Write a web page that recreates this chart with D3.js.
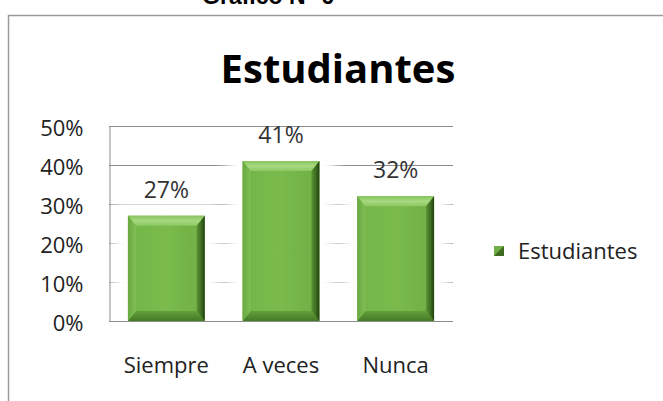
<!DOCTYPE html>
<html>
<head>
<meta charset="utf-8">
<script src="https://cdnjs.cloudflare.com/ajax/libs/d3/7.8.5/d3.min.js"></script>
<style>
  body { margin: 0; background: #fff; }
  svg { display: block; }
  text { font-family: "Open Sans", Lato, sans-serif; }
</style>
</head>
<body>
<div id="chart"></div>
<script>
// data
const categories = ["Siempre", "A veces", "Nunca"];
const values = [0.27, 0.41, 0.32];
const yTicks = [0, 0.1, 0.2, 0.3, 0.4, 0.5];
const seriesName = "Estudiantes";
const chartTitle = "Estudiantes";
const figureCaption = "Gráfico N° 6";

const width = 663, height = 401;
const plot = { left: 109, right: 453, top: 126, bottom: 321 };

const svg = d3.select("#chart").append("svg")
  .attr("width", width)
  .attr("height", height);

const defs = svg.append("defs");

// soft white halo around bars (hides gridlines near them)
defs.append("filter").attr("id", "halo")
  .attr("x", "-50%").attr("y", "-50%").attr("width", "200%").attr("height", "200%")
  .append("feGaussianBlur").attr("stdDeviation", 7);

function vGrad(id, stops) {
  const g = defs.append("linearGradient").attr("id", id)
    .attr("x1", 0).attr("y1", 0).attr("x2", 0).attr("y2", 1);
  stops.forEach(s => g.append("stop").attr("offset", s[0]).attr("stop-color", s[1]));
}
function hGrad(id, stops) {
  const g = defs.append("linearGradient").attr("id", id)
    .attr("x1", 0).attr("y1", 0).attr("x2", 1).attr("y2", 0);
  stops.forEach(s => g.append("stop").attr("offset", s[0]).attr("stop-color", s[1]));
}
hGrad("face", [[0, "#74b548"], [0.5, "#7abb4c"], [1, "#6fae43"]]);
vGrad("topBevel", [[0, "#88c45e"], [0.5, "#a8d980"], [1, "#8cc862"]]);
vGrad("botBevel", [[0, "#62a03a"], [1, "#457927"]]);
hGrad("leftBevel", [[0, "#68a840"], [1, "#80bf55"]]);
hGrad("rightBevel", [[0, "#5a9334"], [0.6, "#3b6921"], [1, "#213f0e"]]);

// caption above (cut off at the top, as in the source)
svg.append("text")
  .attr("x", 268).attr("y", 4)
  .attr("text-anchor", "middle")
  .style("font-family", "'Liberation Sans', Arial, sans-serif")
  .style("font-weight", "bold")
  .style("font-size", "23px")
  .attr("fill", "#000")
  .text(figureCaption);

// chart frame
svg.append("path")
  .attr("d", `M8.5,${height} V15.5 H${width}`)
  .attr("fill", "none")
  .attr("stroke", "#9a9a9a")
  .attr("stroke-width", 1.5);

// title
svg.append("text")
  .attr("x", 338).attr("y", 83)
  .attr("text-anchor", "middle")
  .style("font-weight", "bold")
  .style("font-size", "40px")
  .attr("fill", "#000")
  .text(chartTitle);

const x = d3.scaleBand()
  .domain(categories)
  .range([plot.left, plot.right])
  .paddingInner(0.33)
  .paddingOuter(0.165);

const y = d3.scaleLinear()
  .domain([0, 0.5])
  .range([plot.bottom, plot.top]);

// gridlines
svg.append("g")
  .selectAll("line")
  .data(yTicks.filter(d => d > 0))
  .join("line")
  .attr("x1", plot.left).attr("x2", plot.right)
  .attr("y1", d => Math.round(y(d)) + 0.5)
  .attr("y2", d => Math.round(y(d)) + 0.5)
  .attr("stroke", "#8c8c8c")
  .attr("stroke-width", 1);

// halos
svg.append("g")
  .selectAll("rect")
  .data(values)
  .join("rect")
  .attr("x", (d, i) => x(categories[i]) - 16)
  .attr("y", d => y(d) - 14)
  .attr("width", x.bandwidth() + 32)
  .attr("height", d => plot.bottom - y(d) + 14)
  .attr("fill", "#fff")
  .attr("filter", "url(#halo)");

// y axis
const yAxis = d3.axisLeft(y)
  .tickValues(yTicks)
  .tickFormat(d3.format(".0%"))
  .tickSize(0)
  .tickPadding(26);

const yg = svg.append("g")
  .attr("transform", `translate(${plot.left + 0.5},0)`)
  .call(yAxis);
yg.select(".domain").attr("stroke", "#8c8c8c");
yg.selectAll("text")
  .style("font-family", "'Open Sans', sans-serif")
  .style("font-size", "22px")
  .attr("fill", "#222")
  .attr("dy", "0.43em");

// bevelled bars
const bev = 10, side = 8;
const bars = svg.append("g")
  .selectAll("g")
  .data(values)
  .join("g");

bars.each(function (d, i) {
  const g = d3.select(this);
  const x0 = x(categories[i]), x1 = x0 + x.bandwidth();
  const y0 = y(d), y1 = y(0);
  g.append("rect")
    .attr("x", x0).attr("y", y0)
    .attr("width", x1 - x0).attr("height", y1 - y0)
    .attr("fill", "url(#face)");
  const poly = (pts, fill) => g.append("polygon")
    .attr("points", pts.map(p => p.join(",")).join(" "))
    .attr("fill", fill);
  poly([[x0, y0], [x1, y0], [x1 - side, y0 + bev], [x0 + side, y0 + bev]], "url(#topBevel)");
  poly([[x0, y1], [x1, y1], [x1 - side, y1 - bev], [x0 + side, y1 - bev]], "url(#botBevel)");
  poly([[x0, y0], [x0 + side, y0 + bev], [x0 + side, y1 - bev], [x0, y1]], "url(#leftBevel)");
  poly([[x1, y0], [x1 - side, y0 + bev], [x1 - side, y1 - bev], [x1, y1]], "url(#rightBevel)");
});

// bottom axis line
svg.append("line")
  .attr("x1", plot.left).attr("x2", plot.right)
  .attr("y1", plot.bottom + 0.5).attr("y2", plot.bottom + 0.5)
  .attr("stroke", "#8c8c8c");

// value labels
svg.append("g")
  .selectAll("text")
  .data(values)
  .join("text")
  .attr("x", (d, i) => x(categories[i]) + x.bandwidth() / 2)
  .attr("y", d => y(d) - 18)
  .attr("text-anchor", "middle")
  .style("font-size", "23px")
  .attr("fill", "#333")
  .text(d => d3.format(".0%")(d));

// category labels
svg.append("g")
  .selectAll("text")
  .data(categories)
  .join("text")
  .attr("x", d => x(d) + x.bandwidth() / 2)
  .attr("y", 373)
  .attr("text-anchor", "middle")
  .style("font-size", "22px")
  .attr("fill", "#222")
  .text(d => d);

// legend
const lg = svg.append("g").attr("transform", "translate(494,246)");
lg.append("rect")
  .attr("width", 10).attr("height", 10)
  .attr("fill", "#6fae45");
lg.append("polygon")
  .attr("points", "0,10 10,0 10,10")
  .attr("fill", "#3d6b22");
lg.append("text")
  .attr("x", 24).attr("y", 5)
  .attr("dy", "0.36em")
  .style("font-size", "22px")
  .attr("fill", "#222")
  .text(seriesName);
</script>
</body>
</html>
